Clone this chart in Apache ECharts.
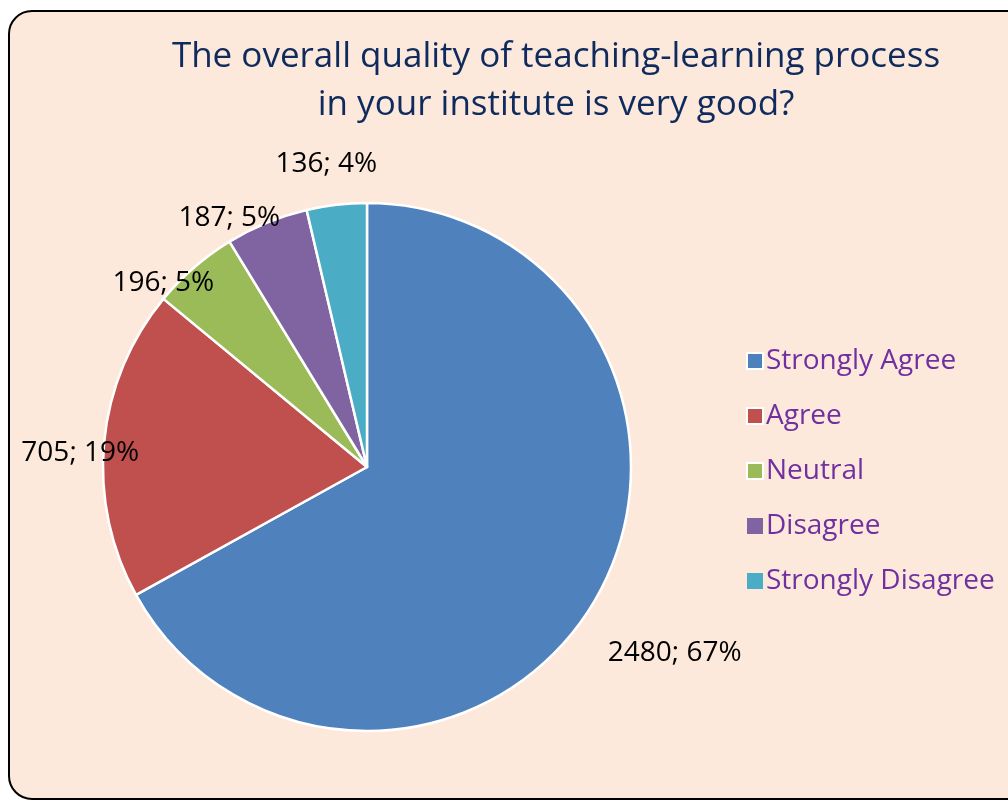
<!DOCTYPE html>
<html>
<head>
<meta charset="utf-8">
<script src="https://cdn.jsdelivr.net/npm/echarts@6/dist/echarts.min.js"></script>
<style>
html,body{margin:0;padding:0;background:#fff;width:1008px;height:800px;overflow:hidden;}
#box{position:absolute;left:8px;top:10px;width:1020px;height:786px;border:2px solid #000;border-radius:24px;background:#FDE9DB;}
#chart{position:absolute;left:0;top:0;width:1008px;height:800px;}
</style>
</head>
<body>
<div id="box"></div>
<div id="chart"></div>
<script>
const titleText = 'The overall quality of teaching-learning process\nin your institute is very good?';
const categories = ['Strongly Agree', 'Agree', 'Neutral', 'Disagree', 'Strongly Disagree'];
const values = [2480, 705, 196, 187, 136];
const colors = ['#4F81BD', '#C0504D', '#9BBB59', '#8064A2', '#4BACC6'];
// label nudges (style only), per slice
const labelDx = [-2, 52, 33, 23, 47];
const labelDy = [46, 12, 25, 6, -29];
const legendIconBorder = [2, 2, 2, 0, 0];

const chart = echarts.init(document.getElementById('chart'), null, {renderer: 'canvas'});
chart.setOption({
  backgroundColor: 'transparent',
  title: {
    text: titleText,
    left: 551,
    textAlign: 'center',
    top: 28,
    textStyle: {fontFamily: 'Open Sans', fontWeight: 'normal', fontSize: 35, lineHeight: 48, color: '#0F2B5E'}
  },
  legend: {
    orient: 'vertical',
    left: 741,
    top: 341,
    icon: 'rect',
    itemWidth: 16,
    itemHeight: 16,
    itemGap: 25,
    textStyle: {fontFamily: 'Open Sans', fontSize: 28, lineHeight: 30, color: '#7030A0', padding: [0, 0, 0, -2]},
    data: categories.map((n, i) => ({name: n, itemStyle: {borderColor: '#fff', borderWidth: legendIconBorder[i]}}))
  },
  series: [{
    type: 'pie',
    center: [367, 467],
    radius: [0, 264],
    startAngle: 90,
    clockwise: true,
    percentPrecision: 0,
    avoidLabelOverlap: false,
    color: colors,
    itemStyle: {borderColor: '#fff', borderWidth: 2.5},
    label: {
      show: true,
      position: 'outside',
      formatter: '{c}; {d}%',
      fontFamily: 'Open Sans',
      fontSize: 28,
      color: '#000'
    },
    labelLine: {show: false, length: 12, length2: 0},
    labelLayout: function (p) {
      return {dx: labelDx[p.dataIndex], dy: labelDy[p.dataIndex], hideOverlap: false, moveOverlap: false};
    },
    emphasis: {disabled: true},
    data: categories.map((n, i) => ({name: n, value: values[i]}))
  }]
});
</script>
</body>
</html>
